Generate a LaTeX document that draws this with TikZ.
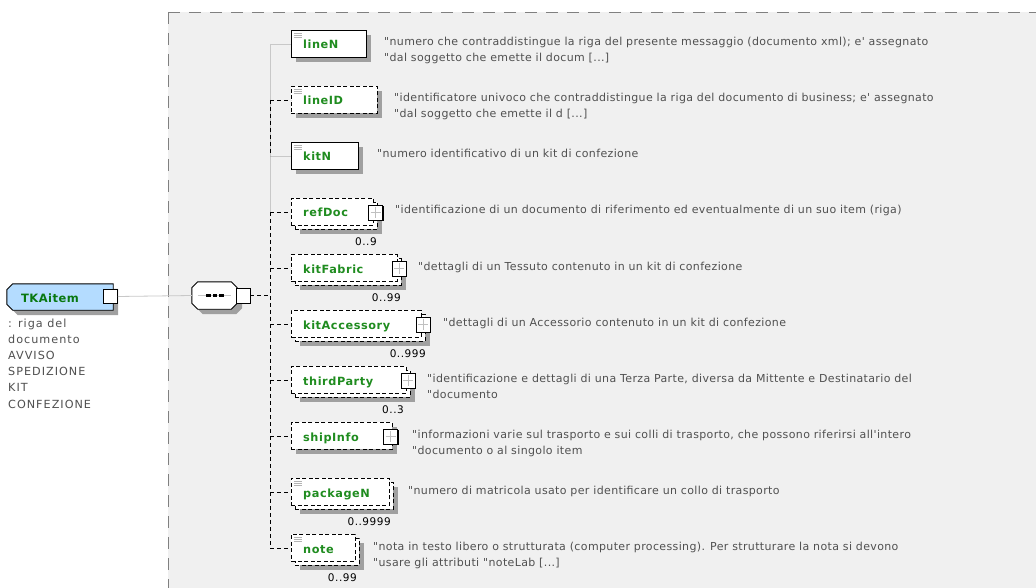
\documentclass[tikz,border=0pt]{standalone}
\usepackage{fontspec}
\setmainfont{DejaVu Sans}
\newfontfamily\descfont{DejaVu Sans}[LetterSpace=3.3]
\newfontfamily\labfont{DejaVu Sans}[LetterSpace=5]
\newfontfamily\rootdfont{DejaVu Sans}[LetterSpace=9]
\newfontfamily\multfont{DejaVu Sans}[LetterSpace=5]
\newfontfamily\rootfont{DejaVu Sans}[LetterSpace=4]
\usetikzlibrary{shadows}
\pgfdeclarelayer{grp}
\pgfdeclarelayer{bg}
\pgfsetlayers{grp,bg,main}
\definecolor{grpfill}{HTML}{F0F0F0}
\definecolor{grpline}{HTML}{808080}
\definecolor{shade}{HTML}{A0A0A0}
\definecolor{elgreen}{HTML}{1F8C1F}
\definecolor{rootgreen}{HTML}{087810}
\definecolor{rootblue}{HTML}{B4DCFF}
\definecolor{desccol}{HTML}{505050}
\definecolor{conncol}{HTML}{C8C8C8}
\definecolor{iconcol}{HTML}{B4B4B4}
\definecolor{pluscol}{HTML}{C0C0C0}
\tikzset{
 elbox/.style={draw=black, fill=white, line width=0.9pt, minimum height=27pt, inner sep=0pt, anchor=north west},
 reqbox/.style={elbox},
 optbox/.style={elbox, dash pattern=on 4pt off 2.5pt},
 shad/.style={drop shadow={shadow xshift=5pt, shadow yshift=-5pt, fill=shade, opacity=1}},
 simple/.style={path picture={\draw[iconcol, solid, line width=0.7pt]
   ([shift={(2.5,2.5)}]path picture bounding box.north west) -- ++(8,0)
   ([shift={(2.5,4.5)}]path picture bounding box.north west) -- ++(8,0)
   ([shift={(2.5,6.5)}]path picture bounding box.north west) -- ++(8,0);}},
 plusbox/.style={draw=black, fill=white, line width=0.8pt, minimum width=14pt, minimum height=15pt, inner sep=0pt,
   drop shadow={shadow xshift=1.2pt, shadow yshift=-1.2pt, fill=black, opacity=1},
   path picture={\draw[pluscol, solid, line width=0.8pt]
     ([xshift=2pt]path picture bounding box.west) -- ([xshift=-2pt]path picture bounding box.east)
     ([yshift=-2pt]path picture bounding box.north) -- ([yshift=2pt]path picture bounding box.south);}},
 elabel/.style={font=\labfont\fontsize{11.3}{12}\selectfont\bfseries, text=elgreen, anchor=base west, inner sep=0pt},
 desc/.style={font=\descfont\fontsize{11}{16}\selectfont, text=desccol, anchor=base west, inner sep=0pt, align=left},
 mult/.style={font=\multfont\fontsize{10.5}{12}\selectfont, text=black, anchor=base east, inner sep=0pt},
 connreq/.style={draw=conncol, line width=0.8pt},
 connopt/.style={draw=black, line width=0.8pt, dash pattern=on 4pt off 3pt},
 octo/.style={draw=black, line width=0.9pt, drop shadow={shadow xshift=5pt, shadow yshift=-5pt, fill=shade, opacity=1}},
 smallsq/.style={draw=black, fill=white, line width=0.9pt, minimum width=14pt, minimum height=15pt, inner sep=0pt},
}
\begin{document}
\begin{tikzpicture}[x=1pt,y=-1pt]
\useasboundingbox (0,0) rectangle (1036,588);
\begin{pgfonlayer}{grp}
\fill[white] (0,0) rectangle (1036,588);
\fill[grpfill] (168,12) rectangle (1036,588);
\draw[grpline, line width=0.8pt, dash pattern=on 12pt off 9pt] (168,12) -- (168,588);
\draw[grpline, line width=0.8pt, dash pattern=on 12pt off 9pt] (168,12) -- (1036,12);
\end{pgfonlayer}

% root element
\node[inner sep=0pt, minimum width=106pt, minimum height=26pt] (root) at (60,297) {};
\begin{pgfonlayer}{bg}
\path[octo, fill=rootblue] ([xshift=6pt]root.north west) -- (root.north east) -- (root.south east)
  -- ([xshift=6pt]root.south west) -- ([yshift=6pt]root.south west) -- ([yshift=-6pt]root.north west) -- cycle;
\end{pgfonlayer}
\node[font=\rootfont\fontsize{11.5}{13}\selectfont\bfseries, text=rootgreen, anchor=base west, inner sep=0pt] (rootT) at (21,302) {TKAitem};
\node[smallsq, minimum height=14pt] (rootP) at (110.5,296.5) {};
\node[font=\rootdfont\fontsize{11.2}{16.2}\selectfont, text=desccol, anchor=base west, inner sep=0pt, align=left] (rootD) at (8,408)
  {: riga del\\documento\\AVVISO\\SPEDIZIONE\\KIT\\CONFEZIONE};

% sequence compositor
\node[inner sep=0pt, minimum width=45pt, minimum height=27pt] (seq) at (214.5,295.5) {};
\begin{pgfonlayer}{bg}
\path[octo, fill=white] ([xshift=6pt]seq.north west) -- ([xshift=-6pt]seq.north east) -- ([yshift=-6pt]seq.north east)
  -- ([yshift=6pt]seq.south east) -- ([xshift=-6pt]seq.south east) -- ([xshift=6pt]seq.south west)
  -- ([yshift=6pt]seq.south west) -- ([yshift=-6pt]seq.north west) -- cycle;
\end{pgfonlayer}
\draw[conncol, line width=0.8pt] ([xshift=6pt]seq.west) -- ([xshift=-6pt]seq.east);
\foreach \dx in {-8.5,-2,4.5}
  \fill[black] ([shift={(\dx,-1.2)}]seq.center) rectangle ++(4.5,2.4);
\node[smallsq] (seqP) at (243,295.5) {};
\coordinate (spine) at (270,44);
\draw[connreq] (rootP.east) -- (seq.west);

% 1 lineN
\node[reqbox, shad, simple, minimum width=75pt] (lineN) at (291,30) {};
\node[elabel] (lineNl) at (303,49) {lineN};
\node[desc] (lineNd) at (384,62) {"numero che contraddistingue la riga del presente messaggio (documento xml); e' assegnato\\"dal soggetto che emette il docum [...]};
% 2 lineID
\node[optbox, shad, simple, minimum width=86pt] (lineID) at (291,86) {};
\node[elabel] (lineIDl) at (303,105) {lineID};
\node[desc] (lineIDd) at (394,118) {"identificatore univoco che contraddistingue la riga del documento di business; e' assegnato\\"dal soggetto che emette il d [...]};
% 3 kitN
\node[reqbox, shad, simple, minimum width=67pt] (kitN) at (291,142) {};
\node[elabel] (kitNl) at (303,161) {kitN};
\node[desc] (kitNd) at (377,158) {"numero identificativo di un kit di confezione};
% 4 refDoc
\node[optbox, shad, minimum width=82pt] (refDocB) at (295,202) {};
\node[optbox, minimum width=82pt] (refDoc) at (291,198) {};
\node[plusbox] (refDocP) at (375.5,212.5) {};
\node[elabel] (refDocl) at (303,217) {refDoc};
\node[mult] (refDocM) at (377,245) {0..9};
\node[desc] (refDocd) at (395,214) {"identificazione di un documento di riferimento ed eventualmente di un suo item (riga)};
% 5 kitFabric
\node[optbox, shad, minimum width=105.5pt] (kitFabricB) at (295,258) {};
\node[optbox, minimum width=105.5pt] (kitFabric) at (291,254) {};
\node[plusbox] (kitFabricP) at (399,268.5) {};
\node[elabel] (kitFabricl) at (303,273) {kitFabric};
\node[mult] (kitFabricM) at (401,301) {0..99};
\node[desc] (kitFabricd) at (418,270) {"dettagli di un Tessuto contenuto in un kit di confezione};
% 6 kitAccessory
\node[optbox, shad, minimum width=129.5pt] (kitAccessoryB) at (295,314) {};
\node[optbox, minimum width=129.5pt] (kitAccessory) at (291,310) {};
\node[plusbox] (kitAccessoryP) at (423,324.5) {};
\node[elabel] (kitAccessoryl) at (303,329) {kitAccessory};
\node[mult] (kitAccessoryM) at (426,357) {0..999};
\node[desc] (kitAccessoryd) at (443,326) {"dettagli di un Accessorio contenuto in un kit di confezione};
% 7 thirdParty
\node[optbox, shad, minimum width=114.5pt] (thirdPartyB) at (295,370) {};
\node[optbox, minimum width=114.5pt] (thirdParty) at (291,366) {};
\node[plusbox] (thirdPartyP) at (408,380.5) {};
\node[elabel] (thirdPartyl) at (303,385) {thirdParty};
\node[mult] (thirdPartyM) at (404,413) {0..3};
\node[desc] (thirdPartyd) at (427,398) {"identificazione e dettagli di una Terza Parte, diversa da Mittente e Destinatario del\\"documento};
% 8 shipInfo
\node[optbox, shad, minimum width=101pt] (shipInfo) at (291,422) {};
\node[plusbox] (shipInfoP) at (390.5,436.5) {};
\node[elabel] (shipInfol) at (303,441) {shipInfo};
\node[desc] (shipInfod) at (412,454) {"informazioni varie sul trasporto e sui colli di trasporto, che possono riferirsi all'intero\\"documento o al singolo item};
% 9 packageN
\node[optbox, shad, minimum width=98pt] (packageNB) at (295,482) {};
\node[optbox, simple, minimum width=98pt] (packageN) at (291,478) {};
\node[elabel] (packageNl) at (303,497) {packageN};
\node[mult] (packageNM) at (391,525) {0..9999};
\node[desc] (packageNd) at (408,494) {"numero di matricola usato per identificare un collo di trasporto};
% 10 note
\node[optbox, shad, minimum width=64pt] (noteB) at (295,538) {};
\node[optbox, simple, minimum width=64pt] (note) at (291,534) {};
\node[elabel] (notel) at (303,553) {note};
\node[mult] (noteM) at (357,581) {0..99};
\node[desc] (noted) at (373,566) {"nota in testo libero o strutturata (computer processing). Per strutturare la nota si devono\\"usare gli attributi "noteLab [...]};

% connectors
\draw[connreq] (lineN.west -| spine) -- (refDoc.west -| spine);
\draw[connreq] (lineN.west -| spine) -- (lineN.west);
\draw[connreq] (kitN.west -| spine) -- (kitN.west);
\draw[connopt] (lineID.west -| spine) -- (kitN.west -| spine);
\draw[connopt] (refDoc.west -| spine) -- (note.west -| spine);
\foreach \n in {lineID,refDoc,kitFabric,kitAccessory,thirdParty,shipInfo,packageN,note}
  \draw[connopt] (\n.west -| spine) -- (\n.west);
\draw[connopt] (seqP.east) -- (seqP.east -| spine);
\end{tikzpicture}
\end{document}
